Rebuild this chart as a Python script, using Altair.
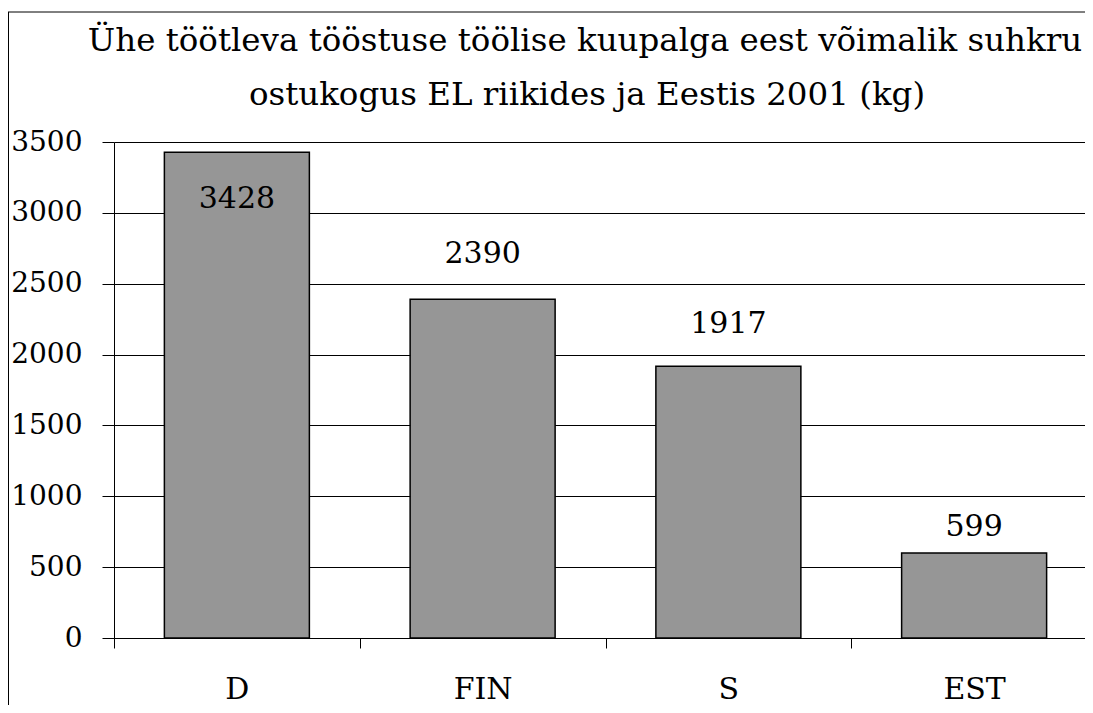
import altair as alt
import pandas as pd

TITLE_LINES = [
    "Ühe töötleva tööstuse töölise kuupalga eest võimalik suhkru",
    "ostukogus EL riikides ja Eestis 2001 (kg)",
]
COUNTRIES = ["D", "FIN", "S", "EST"]
VALUES = [3428, 2390, 1917, 599]
Y_TICKS = [0, 500, 1000, 1500, 2000, 2500, 3000, 3500]

df = pd.DataFrame({"country": COUNTRIES, "value": VALUES})

W, H = 971, 496
X_SPAN = 983
FONT = "DejaVu Serif"

x_enc = alt.X(
    "country:N",
    sort=COUNTRIES,
    scale=alt.Scale(paddingInner=0, paddingOuter=0, range=[0, X_SPAN]),
    axis=alt.Axis(
        title=None, labelAngle=0, labelFontSize=30, labelFont=FONT, labelColor="black",
        tickBand="extent", tickSize=10, tickColor="black", tickWidth=1,
        domainColor="black", domainWidth=1, labelPadding=26, grid=False,
        labelBaseline="top",
    ),
)
y_enc = alt.Y(
    "value:Q",
    scale=alt.Scale(domain=[0, 3500], nice=False),
    axis=alt.Axis(
        title=None, values=Y_TICKS, format="d", grid=True, gridColor="black",
        gridWidth=1, gridOpacity=1, tickSize=12, tickColor="black", tickWidth=1,
        domainColor="black", domainWidth=1, labelPadding=20, labelFontSize=28,
        labelFont=FONT, labelColor="black",
    ),
)

base = alt.Chart(df)

bars = base.mark_bar(
    width=alt.RelativeBandSize(0.59), color="#969696", stroke="black", strokeWidth=1.5
).encode(x=x_enc, y=y_enc)

def label_layer(filt, dy):
    return base.transform_filter(filt).mark_text(
        dy=dy, baseline="alphabetic", align="center", fontSize=30, font=FONT, color="black"
    ).encode(
        x=alt.X("country:N", sort=COUNTRIES),
        y=alt.Y("value:Q"),
        text=alt.Text("value:Q", format="d"),
    )

lab_d = label_layer(alt.datum.country == "D", 56)
lab_fin = label_layer(alt.datum.country == "FIN", -36)
lab_s = label_layer(alt.datum.country == "S", -33)
lab_est = label_layer(alt.datum.country == "EST", -17)

one = alt.Chart(alt.Data(values=[{}]))

frame_left = one.mark_rule(color="black", strokeWidth=1).encode(
    x=alt.value(-105.5), y=alt.value(-130), y2=alt.value(H + 70)
)
frame_top = one.mark_rule(color="black", strokeWidth=1).encode(
    x=alt.value(-106), x2=alt.value(W + 20), y=alt.value(-130)
)
title1 = one.mark_text(
    text=TITLE_LINES[0], fontSize=32.5, font=FONT, align="center",
    baseline="alphabetic", color="black"
).encode(x=alt.value(471), y=alt.value(-91))
title2 = one.mark_text(
    text=TITLE_LINES[1], fontSize=32.5, font=FONT, align="center",
    baseline="alphabetic", color="black"
).encode(x=alt.value(473), y=alt.value(-37))

chart = alt.layer(
    frame_left, frame_top, title1, title2, bars, lab_d, lab_fin, lab_s, lab_est
).properties(
    width=W, height=H,
    padding={"left": 106, "top": 134, "right": 0, "bottom": 67},
    autosize=alt.AutoSizeParams(type="none"),
    view=alt.ViewBackground(stroke="transparent", strokeWidth=0),
).configure_view(strokeWidth=0, stroke="transparent").configure(font=FONT, background="white")

chart.save("out.html", embed_options={"renderer": "svg", "actions": False})
